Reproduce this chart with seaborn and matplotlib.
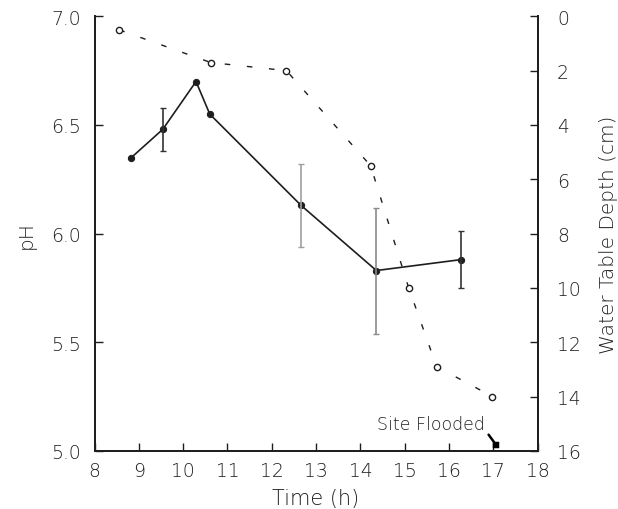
import matplotlib
matplotlib.use("Agg")
import matplotlib.pyplot as plt
import seaborn as sns
import pandas as pd
import numpy as np

# pH data (solid line, filled markers)
ph_time = [8.83, 9.54, 10.29, 10.60, 12.66, 14.36, 16.26]
ph_value = [6.35, 6.48, 6.70, 6.55, 6.13, 5.83, 5.88]
ph_err = [0, 0.10, 0, 0, 0.19, 0.29, 0.13]

# water table depth (dashed line, open markers)
wt_time = [8.56, 10.62, 12.33, 14.23, 15.09, 15.72, 16.98]
wt_depth = [0.5, 1.7, 2.0, 5.5, 10.0, 12.9, 14.0]

flood_time = [17.07]
flood_depth = [15.8]

x_ticks = [8, 9, 10, 11, 12, 13, 14, 15, 16, 17, 18]
ph_ticks = [5.0, 5.5, 6.0, 6.5, 7.0]
depth_ticks = [0, 2, 4, 6, 8, 10, 12, 14, 16]

sns.set_theme(style="white")
plt.rcParams['font.family'] = ['DejaVu Sans']

fig = plt.figure(figsize=(6.18, 5.10), dpi=100)
ax = fig.add_axes([0.153, 0.114, 0.717, 0.852])
ax2 = ax.twinx()

dark = "#1e1e1e"

ph_df = pd.DataFrame({"t": ph_time, "ph": ph_value, "err": ph_err})
sns.lineplot(data=ph_df, x="t", y="ph", ax=ax, color=dark, lw=1.2,
             marker="o", markersize=4.5, markeredgecolor=dark, markerfacecolor=dark)
err_colors = ["#333333", "#333333", "#333333", "#333333", "#a0a0a0", "#8a8a8a", "#333333"]
for t, v, e, c in zip(ph_time, ph_value, ph_err, err_colors):
    if e > 0:
        ax.errorbar([t], [v], yerr=[e], fmt="none", ecolor=c, elinewidth=1.2,
                    capsize=2, capthick=1)

wt_df = pd.DataFrame({"t": wt_time, "d": wt_depth})
sns.lineplot(data=wt_df, x="t", y="d", ax=ax2, color=dark, lw=1.0,
             dashes=False, marker="o", markersize=4.5, markerfacecolor="white",
             markeredgecolor=dark, markeredgewidth=1.0)
ax2.lines[-1].set_dashes((4, 12))

fl_df = pd.DataFrame({"t": flood_time, "d": flood_depth})
sns.scatterplot(data=fl_df, x="t", y="d", ax=ax2, marker="s", s=18, color="black",
                edgecolor="black")
ax2.annotate("Site Flooded", xy=(flood_time[0], flood_depth[0]), xytext=(16.8, 15.0),
             ha="right", va="center", fontsize=12.5, color=dark, fontweight="light",
             arrowprops=dict(arrowstyle="-", color="black", lw=1.8,
                             shrinkA=1, shrinkB=2, relpos=(1.0, 0.2)))

ax.set_xlim(8, 18)
ax.set_ylim(5.0, 7.0)
ax2.set_ylim(16, 0)
ax.set_xticks(x_ticks)
ax.set_xticklabels([str(x) for x in x_ticks])
ax.set_yticks(ph_ticks)
ax.set_yticklabels([f"{v:.1f}" for v in ph_ticks])
ax2.set_yticks(depth_ticks)
ax2.set_yticklabels([str(v) for v in depth_ticks])

for a in (ax, ax2):
    a.spines["top"].set_visible(False)
    for s in ("left", "right", "bottom"):
        a.spines[s].set_color(dark)
        a.spines[s].set_linewidth(1.3)
    a.tick_params(direction="in", length=6, width=1, color=dark,
                  labelsize=13.5, labelcolor=dark, pad=10)
ax.tick_params(axis="x", pad=7)
ax.tick_params(axis="both", which="both", left=True, bottom=True)
ax2.tick_params(axis="y", right=True, pad=14)
for lab in ax.get_xticklabels() + ax.get_yticklabels() + ax2.get_yticklabels():
    lab.set_fontweight("light")

ax.set_xlabel("Time (h)", fontsize=15, color=dark, labelpad=6, fontweight="light")
ax.set_ylabel("pH", fontsize=14.5, color=dark, labelpad=11, fontweight="light")
ax2.set_ylabel("Water Table Depth (cm)", fontsize=14.5, color=dark, labelpad=13,
               fontweight="light")
ax.grid(False)
ax2.grid(False)

fig.savefig("out.png", dpi=100)
